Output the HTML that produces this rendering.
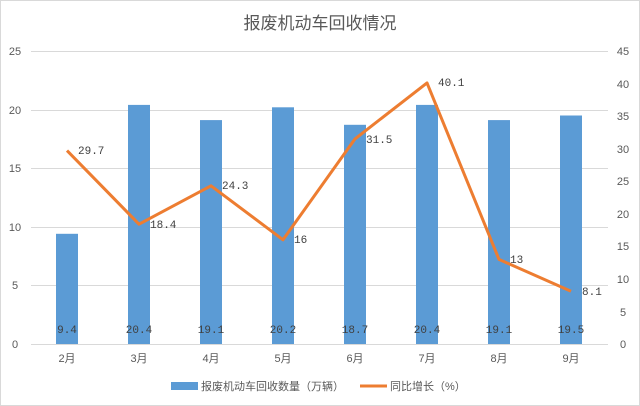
<!DOCTYPE html>
<html><head><meta charset="utf-8"><style>
body{margin:0;background:#fff}
svg{display:block}
.t{font-family:"Liberation Sans","Noto Sans CJK SC",sans-serif;font-size:11px;fill:#595959}
</style></head><body>
<svg width="640" height="406" viewBox="0 0 640 406">
<rect x="0.5" y="0.5" width="639" height="405" fill="#fff" stroke="#d9d9d9"/>
<text x="320" y="29" text-anchor="middle" style="font-family:'Liberation Sans','Noto Sans CJK SC',sans-serif;font-size:17px;fill:#595959">报废机动车回收情况</text>
<g stroke="#d9d9d9" stroke-width="1">
<line x1="31" x2="608" y1="51.5" y2="51.5"/>
<line x1="31" x2="608" y1="110.5" y2="110.5"/>
<line x1="31" x2="608" y1="168.5" y2="168.5"/>
<line x1="31" x2="608" y1="227.5" y2="227.5"/>
<line x1="31" x2="608" y1="285.5" y2="285.5"/>
<line x1="31" x2="608" y1="344.5" y2="344.5"/>
</g>
<g class="t" text-anchor="middle">
<text x="15" y="55">25</text><text x="15" y="114">20</text><text x="15" y="172">15</text><text x="15" y="231">10</text><text x="15" y="289">5</text><text x="15" y="348">0</text>
</g>
<g class="t" text-anchor="middle">
<text x="623" y="55">45</text><text x="623" y="88">40</text><text x="623" y="120">35</text><text x="623" y="153">30</text><text x="623" y="185">25</text><text x="623" y="218">20</text><text x="623" y="250">15</text><text x="623" y="283">10</text><text x="623" y="316">5</text><text x="623" y="348">0</text>
</g>
<g fill="#5b9bd5">
<rect x="56" y="233.8" width="22" height="110.2"/>
<rect x="128" y="104.9" width="22" height="239.1"/>
<rect x="200" y="120.1" width="22" height="223.9"/>
<rect x="272" y="107.3" width="22" height="236.7"/>
<rect x="344" y="124.8" width="22" height="219.2"/>
<rect x="416" y="104.9" width="22" height="239.1"/>
<rect x="488" y="120.1" width="22" height="223.9"/>
<rect x="560" y="115.5" width="22" height="228.5"/>
</g>
<g font-family="Liberation Mono, monospace" font-size="11" fill="#404040" text-anchor="middle">
<text x="67" y="333">9.4</text><text x="139" y="333">20.4</text><text x="211" y="333">19.1</text><text x="283" y="333">20.2</text><text x="355" y="333">18.7</text><text x="427" y="333">20.4</text><text x="499" y="333">19.1</text><text x="571" y="333">19.5</text>
</g>
<polyline fill="none" stroke="#ed7d31" stroke-width="3" stroke-linejoin="round" points="67,150.6 139,224.2 211,185.8 283,239.8 355,138.9 427,82.9 499,259.4 571,291.3"/>
<g font-family="Liberation Mono, monospace" font-size="11" fill="#404040">
<text x="78" y="154">29.7</text><text x="150" y="228">18.4</text><text x="222" y="189">24.3</text><text x="294" y="243">16</text><text x="366" y="143">31.5</text><text x="438" y="86">40.1</text><text x="510" y="263">13</text><text x="582" y="295">8.1</text>
</g>
<g class="t" text-anchor="middle">
<text x="67" y="362">2月</text><text x="139" y="362">3月</text><text x="211" y="362">4月</text><text x="283" y="362">5月</text><text x="355" y="362">6月</text><text x="427" y="362">7月</text><text x="499" y="362">8月</text><text x="571" y="362">9月</text>
</g>
<rect x="171" y="382" width="27" height="8" fill="#5b9bd5"/>
<text x="201" y="390" class="t">报废机动车回收数量（万辆）</text>
<line x1="360" x2="387" y1="386" y2="386" stroke="#ed7d31" stroke-width="3"/>
<text x="390" y="390" class="t">同比增长（%）</text>
</svg>
</body></html>
